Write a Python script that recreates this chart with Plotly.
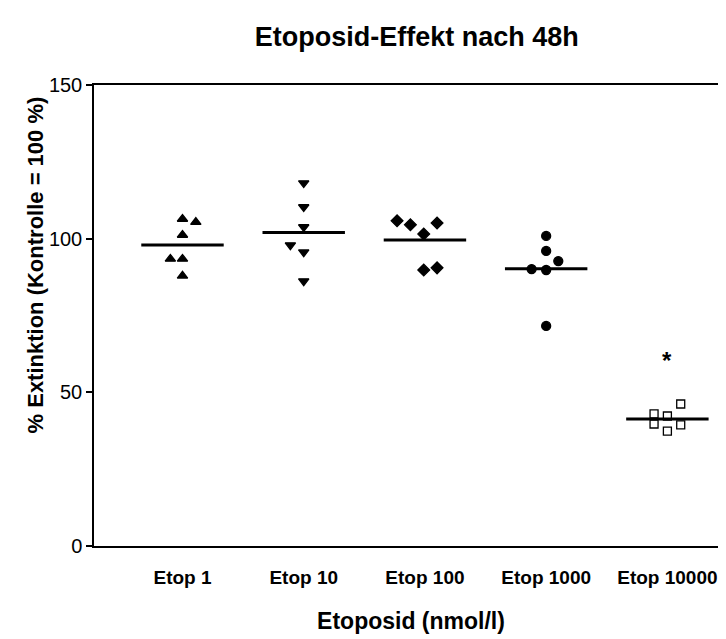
import plotly.graph_objects as go

# values
groups = ["Etop 1", "Etop 10", "Etop 100", "Etop 1000", "Etop 10000"]
etop1 = [106.4, 105.4, 101.2, 93.4, 93.4, 87.9]
etop10 = [118.1, 110.3, 103.8, 97.9, 95.6, 86.2]
etop100 = [105.8, 104.5, 105.1, 101.5, 89.8, 90.5]
etop1000 = [100.9, 96.0, 92.7, 90.1, 89.8, 71.6]
etop10000 = [46.2, 43.0, 42.3, 39.7, 39.4, 37.4]
# horizontal scatter of the points inside each group (category units)
spread1 = [0.0, 0.11, 0.0, -0.1, 0.0, 0.0]
spread10 = [0.0, 0.0, 0.0, -0.11, 0.0, 0.0]
spread100 = [-0.23, -0.12, 0.1, -0.01, -0.01, 0.1]
spread1000 = [0.0, 0.0, 0.1, -0.12, 0.0, 0.0]
spread10000 = [0.11, -0.11, 0.0, -0.11, 0.11, 0.0]
star_y = 60.5

values = [etop1, etop10, etop100, etop1000, etop10000]
spreads = [spread1, spread10, spread100, spread1000, spread10000]
symbols = ["triangle-up", "triangle-down", "diamond", "circle", "square-open"]
sizes = [9, 9, 9, 9, 8]

fig = go.Figure()
for i, (vals, sp) in enumerate(zip(values, spreads)):
    fig.add_trace(go.Scatter(
        x=[i + s for s in sp], y=vals, mode="markers",
        marker=dict(symbol=symbols[i], size=sizes[i], color="black",
                    line=dict(color="black", width=1.3)),
        showlegend=False, cliponaxis=False))
    m = sum(vals) / len(vals)
    fig.add_trace(go.Scatter(
        x=[i - 0.34, i + 0.34], y=[m, m], mode="lines",
        line=dict(color="black", width=3), showlegend=False))

fig.add_annotation(x=4, y=star_y, text="<b>*</b>", showarrow=False,
                   font=dict(size=24, color="black"), yanchor="middle")

font = "Liberation Sans, Arial, sans-serif"
fig.update_layout(
    width=726, height=639,
    margin=dict(l=86, r=6, t=77, b=101),
    paper_bgcolor="white", plot_bgcolor="white",
    font=dict(family=font, color="black"),
    title=dict(text="<b>Etoposid-Effekt nach 48h</b>", x=0.563, xanchor="center",
               y=0.955, yanchor="middle", font=dict(size=27)),
    xaxis=dict(range=[-0.73, 4.5], tickvals=[0, 1, 2, 3, 4],
               ticktext=["<b>%s</b>" % g for g in groups],
               showline=True, linecolor="black", linewidth=1.5, mirror=True,
               ticks="outside", ticklen=13, tickcolor="rgba(0,0,0,0)",
               tickfont=dict(size=19), showgrid=False, zeroline=False,
               title=dict(text="<b>Etoposid (nmol/l)</b>", font=dict(size=23),
                          standoff=26)),
    yaxis=dict(range=[0, 150], tickvals=[0, 50, 100, 150],
               showline=True, linecolor="black", linewidth=1.5, mirror=False,
               ticks="outside", ticklen=6, tickwidth=1.5, tickcolor="black",
               tickfont=dict(size=20), showgrid=False, zeroline=False),
)
fig.add_annotation(x=-0.092, xref="paper", y=0.61, yref="paper",
                   text="<b>% Extinktion (Kontrolle = 100 %)</b>", textangle=-90,
                   showarrow=False, font=dict(size=22), xanchor="center", yanchor="middle")

fig.write_html("out.html")
